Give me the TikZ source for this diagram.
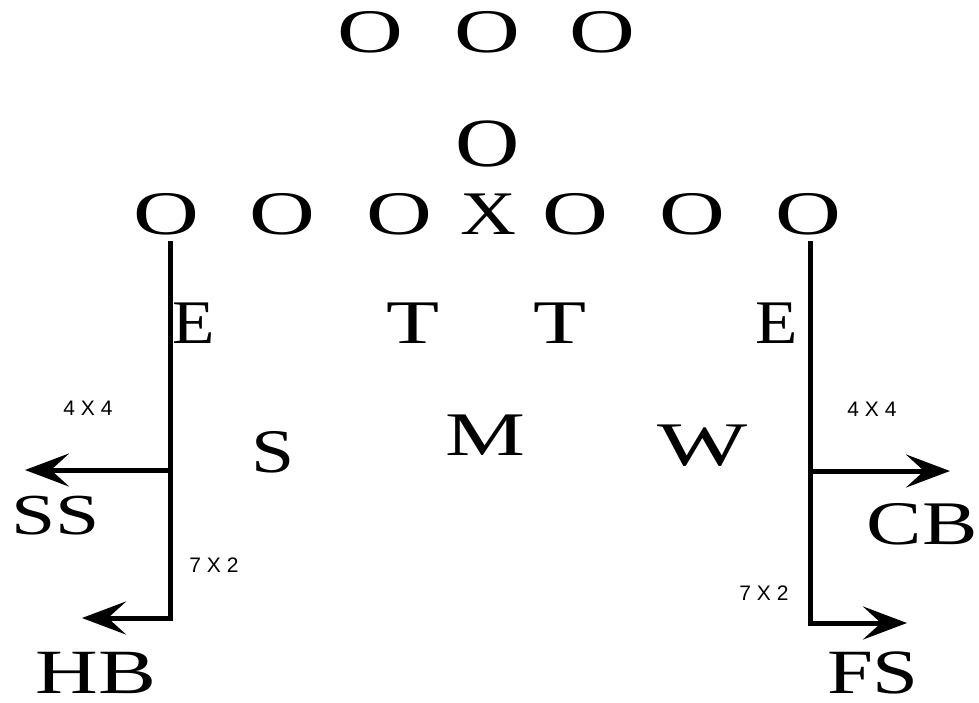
\documentclass[tikz,border=0pt]{standalone}
\usepackage{fontspec}
\setmainfont{Liberation Serif}
\newfontfamily\lblfont{Liberation Sans}
\usetikzlibrary{arrows.meta}
\newcommand\sx[2]{\scalebox{#1}[1]{#2}}
\tikzset{
  glyph/.style={anchor=base, inner sep=0pt, font=\fontsize{62}{62}\selectfont},
  smalllbl/.style={anchor=base, inner sep=0pt, font=\lblfont\fontsize{21}{21}\selectfont},
  route/.style={line width=5pt, line join=miter},
  routearrow/.style={route, -{Stealth[length=44pt,width=33pt,inset=18pt]}},
}
\begin{document}
\begin{tikzpicture}[x=1pt,y=-1pt]
\useasboundingbox[fill=white] (0,0) rectangle (979,702);
% linebackers (top)
\node[glyph] (lb1) at (370,52) {\sx{1.47}{O}};
\node[glyph] (lb2) at (487,52) {\sx{1.47}{O}};
\node[glyph] (lb3) at (602,52) {\sx{1.47}{O}};
\node[glyph, font=\fontsize{69}{69}\selectfont] (qb) at (488,166) {\sx{1.29}{O}};
% line
\node[glyph] (o1) at (166,234) {\sx{1.47}{O}};
\node[glyph] (o2) at (282,234) {\sx{1.47}{O}};
\node[glyph] (o3) at (399,234) {\sx{1.47}{O}};
\node[glyph] (ctr) at (488,234) {\sx{1.25}{X}};
\node[glyph] (o5) at (575,234) {\sx{1.47}{O}};
\node[glyph] (o6) at (692,234) {\sx{1.47}{O}};
\node[glyph] (o7) at (808,234) {\sx{1.47}{O}};
% defense front
\node[glyph] (e1) at (194,343) {\sx{1.12}{E}};
\node[glyph] (t1) at (413,343) {\sx{1.4}{T}};
\node[glyph] (t2) at (560,343) {\sx{1.4}{T}};
\node[glyph] (e2) at (777,343) {\sx{1.12}{E}};
\node[glyph] (s) at (273,472) {\sx{1.25}{S}};
\node[glyph] (m) at (485,455) {\sx{1.45}{M}};
\node[glyph] (w) at (703,465) {\sx{1.54}{W}};
% secondary labels
\node[glyph, font=\fontsize{58}{58}\selectfont] (ss) at (56,534) {\sx{1.37}{SS}};
\node[glyph] (cb) at (922,544) {\sx{1.34}{CB}};
\node[glyph, font=\fontsize{63}{63}\selectfont] (hb) at (96,693) {\sx{1.38}{HB}};
\node[glyph, font=\fontsize{63}{63}\selectfont] (fs) at (873,693) {\sx{1.31}{FS}};
% small labels
\node[smalllbl] (l44) at (88,415) {4 X 4};
\node[smalllbl] (r44) at (872,416) {4 X 4};
\node[smalllbl] (l72) at (214,572) {7 X 2};
\node[smalllbl] (r72) at (764,600) {7 X 2};
% routes
\coordinate (ltop) at (170,241);
\coordinate (lmid) at (170,470);
\coordinate (lbot) at (170,618);
\coordinate (sstip) at (25,470);
\coordinate (hbtip) at (82,618);
\coordinate (rtop) at (810,241);
\coordinate (rmid) at (810,471);
\coordinate (rbot) at (810,623);
\coordinate (cbtip) at (950,471);
\coordinate (fstip) at (907,623);
\draw[routearrow] (ltop) -- (lbot) -- (hbtip);
\draw[routearrow] (lmid) -- (sstip);
\draw[routearrow] (rtop) -- (rbot) -- (fstip);
\draw[routearrow] (rmid) -- (cbtip);
\end{tikzpicture}
\end{document}
